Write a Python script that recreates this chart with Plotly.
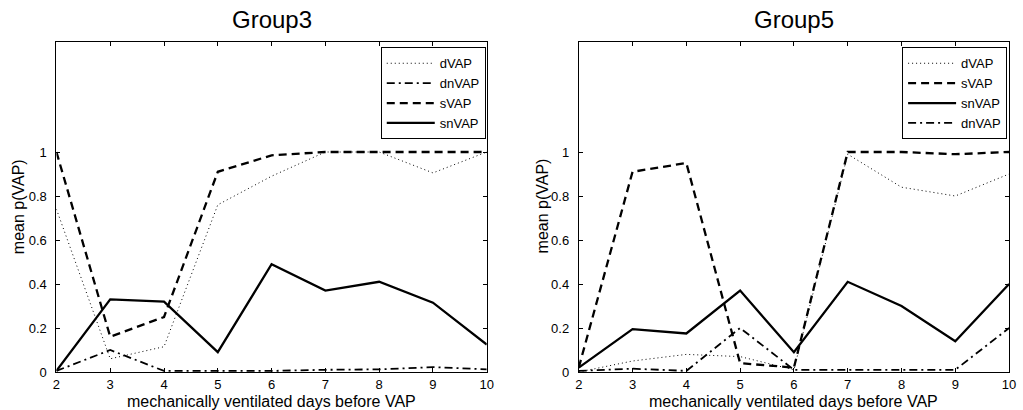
import plotly.graph_objects as go

days = [2, 3, 4, 5, 6, 7, 8, 9, 10]

# Group3
g3_dVAP = [0.74, 0.06, 0.115, 0.76, 0.89, 1.0, 1.0, 0.905, 1.0]
g3_dnVAP = [0.005, 0.10, 0.005, 0.005, 0.005, 0.01, 0.012, 0.022, 0.012]
g3_sVAP = [1.0, 0.16, 0.25, 0.91, 0.985, 1.0, 1.0, 1.0, 1.0]
g3_snVAP = [0.005, 0.33, 0.32, 0.09, 0.49, 0.37, 0.41, 0.315, 0.125]

# Group5
g5_dVAP = [0.0, 0.05, 0.08, 0.07, 0.01, 0.99, 0.84, 0.80, 0.90]
g5_sVAP = [0.02, 0.91, 0.95, 0.04, 0.02, 1.0, 1.0, 0.99, 1.0]
g5_snVAP = [0.02, 0.195, 0.175, 0.37, 0.09, 0.41, 0.30, 0.14, 0.40]
g5_dnVAP = [0.005, 0.015, 0.005, 0.20, 0.01, 0.01, 0.01, 0.01, 0.20]

yticks = [0, 0.2, 0.4, 0.6, 0.8, 1]
yticklabels = ["0", "0.2", "0.4", "0.6", "0.8", "1"]

styles = {
    "dVAP": dict(color="black", width=1, dash="1px,3px"),
    "dnVAP": dict(color="black", width=1.8, dash="8px,4px,2px,4px"),
    "sVAP": dict(color="black", width=2.3, dash="8px,5px"),
    "snVAP": dict(color="black", width=2.3, dash="solid"),
}

fig = go.Figure()

for i, (name, vals) in enumerate([("dVAP", g3_dVAP), ("dnVAP", g3_dnVAP), ("sVAP", g3_sVAP), ("snVAP", g3_snVAP)]):
    fig.add_trace(go.Scatter(x=days, y=vals, mode="lines", name=name, line=styles[name],
                             xaxis="x", yaxis="y", legend="legend", legendgroup="a%d" % i))
for i, (name, vals) in enumerate([("dVAP", g5_dVAP), ("sVAP", g5_sVAP), ("snVAP", g5_snVAP), ("dnVAP", g5_dnVAP)]):
    fig.add_trace(go.Scatter(x=days, y=vals, mode="lines", name=name, line=styles[name],
                             xaxis="x2", yaxis="y2", legend="legend2", legendgroup="b%d" % i))

W, H = 1023, 410
top, bottom = 41.7, 38.3
ph = H - top - bottom

def py(y):
    return (H - bottom - y) / ph

FAM = "Liberation Sans, Arial"
tickfont = dict(family=FAM, size=13, color="black")
labfont = dict(family=FAM, size=16, color="black")
xcommon = dict(range=[2, 10], dtick=1, ticks="inside", ticklen=4, tickcolor="black",
               showline=True, linecolor="black", linewidth=1, mirror="ticks",
               showgrid=False, zeroline=False, tickfont=tickfont)
ycommon = dict(range=[0, 1.5], tickvals=yticks, ticktext=yticklabels, ticks="inside", ticklen=4,
               tickcolor="black", showline=True, linecolor="black", linewidth=1, mirror="ticks",
               showgrid=False, zeroline=False, tickfont=tickfont, ticklabelstandoff=6)

legcommon = dict(bgcolor="white", bordercolor="black", borderwidth=1,
                 font=dict(family=FAM, size=13, color="black"),
                 xanchor="right", yanchor="top", tracegroupgap=0, itemwidth=48)

L1, R1, L2, R2 = 53, 488, 581, 1016

annotations = []
for cx, txt in [((L1 + R1) / 2, "Group3"), ((L2 + R2) / 2, "Group5")]:
    annotations.append(dict(text=txt, x=cx / W, y=py(19), xref="paper", yref="paper",
                            showarrow=False, xanchor="center", yanchor="middle",
                            font=dict(family=FAM, size=24, color="black")))
    annotations.append(dict(text="mechanically ventilated days before VAP", x=cx / W, y=py(401),
                            xref="paper", yref="paper", showarrow=False, xanchor="center",
                            yanchor="middle", font=labfont))
for lx in [14, 544]:
    annotations.append(dict(text="mean p(VAP)", x=lx / W, y=py(206), xref="paper", yref="paper",
                            showarrow=False, textangle=-90, xanchor="center", yanchor="middle",
                            font=labfont))

fig.update_layout(
    width=W, height=H,
    margin=dict(l=0, r=0, t=top, b=bottom),
    paper_bgcolor="white", plot_bgcolor="white",
    xaxis=dict(domain=[L1 / W, R1 / W], anchor="y", **xcommon),
    yaxis=dict(domain=[0, 1], anchor="x", **ycommon),
    xaxis2=dict(domain=[L2 / W, R2 / W], anchor="y2", **xcommon),
    yaxis2=dict(domain=[0, 1], anchor="x2", **ycommon),
    legend=dict(x=487 / W, y=py(47), **legcommon),
    legend2=dict(x=1014 / W, y=py(47), **legcommon),
    annotations=annotations,
)

fig.write_html("out.html", config={"displayModeBar": False},
               post_script="document.body.style.margin='0';")
